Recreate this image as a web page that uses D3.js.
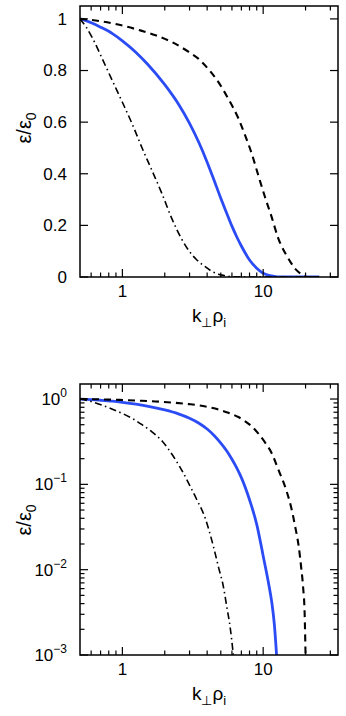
<!DOCTYPE html>
<html>
<head>
<meta charset="utf-8">
<script src="https://cdn.jsdelivr.net/npm/d3@7"></script>
<style>
  body { margin: 0; background: #fff; }
  text { font-family: "Liberation Sans", Arial, Helvetica, sans-serif; fill: #000; }
</style>
</head>
<body>
<svg id="chart" width="346" height="716"></svg>
<script>
// values (k_perp rho_i , eps/eps0)
const solidK = [0.5, 0.6, 0.7, 0.85, 1.0, 1.25, 1.5, 2.0, 2.5, 3.0, 3.5, 4.0, 4.5, 5.0, 5.5, 6.0, 6.5, 7.0, 8.0, 9.0, 10, 11, 11.5, 12, 12.5, 13, 14, 16, 25];
const solidE = [1.0, 0.985, 0.968, 0.943, 0.915, 0.87, 0.826, 0.745, 0.67, 0.595, 0.52, 0.445, 0.372, 0.305, 0.248, 0.197, 0.155, 0.12, 0.066, 0.034, 0.0145, 0.0065, 0.0042, 0.0023, 0.0009, 0.0003, 0.00003, 0.000001, 0.0000001];

const dashK = [0.5, 0.685, 0.95, 1.31, 1.72, 2.25, 2.96, 3.48, 4.09, 4.81, 5.66, 6.66, 7.43, 8.27, 9.22, 10.3, 11.45, 12.8, 14.6, 15.8, 16.9, 17.9, 18.6, 19.2, 19.7, 20.0, 20.3, 21, 23, 25];
const dashE = [1.0, 0.992, 0.977, 0.957, 0.937, 0.91, 0.872, 0.845, 0.805, 0.755, 0.69, 0.615, 0.55, 0.48, 0.395, 0.31, 0.235, 0.15, 0.085, 0.054, 0.0316, 0.0185, 0.0108, 0.0063, 0.0031, 0.001, 0.0003, 0.00003, 0.000001, 0.0000001];

const dotDashK = [0.5, 0.55, 0.614, 0.723, 0.85, 1.0, 1.18, 1.38, 1.63, 1.92, 2.25, 2.65, 3.0, 3.38, 3.88, 4.2, 4.44, 4.81, 5.22, 5.51, 5.82, 6.14, 6.5, 7, 8, 25];
const dotDashE = [1.0, 0.97, 0.925, 0.843, 0.76, 0.677, 0.59, 0.50, 0.41, 0.32, 0.225, 0.145, 0.098, 0.066, 0.04, 0.026, 0.0185, 0.0108, 0.0063, 0.0037, 0.00215, 0.001, 0.0004, 0.0001, 0.00001, 0.0000001];

const xTickLabels = ["1", "10"];
const linTicks = [0, 0.2, 0.4, 0.6, 0.8, 1];
const linTickLabels = ["0", "0.2", "0.4", "0.6", "0.8", "1"];
const logTickExps = ["\u22123", "\u22122", "\u22121", "0"];

const svg = d3.select("#chart");
const left = 80, right = 338;

const x = d3.scaleLog().domain([0.5, 34]).range([left, right]);

const series = [
    { k: solidK, e: solidE, color: "#2b4cf4", width: 2.8, dash: null },
    { k: dashK, e: dashE, color: "#000", width: 2.1, dash: "7,5" },
    { k: dotDashK, e: dotDashE, color: "#000", width: 1.6, dash: "7,3.5,1.5,3.5" }
];

const panels = [
    { top: 6, bottom: 277, log: false, labelY: 128 },
    { top: 384, bottom: 655, log: true, labelY: 520 }
];

panels.forEach((p, i) => {
    const y = p.log
        ? d3.scaleLog().domain([1e-3, 1.5]).range([p.bottom, p.top])
        : d3.scaleLinear().domain([0, 1.05]).range([p.bottom, p.top]);

    const g = svg.append("g");

    // clip for curves
    const clipId = "clip" + i;
    svg.append("clipPath").attr("id", clipId)
        .append("rect").attr("x", left).attr("y", p.top)
        .attr("width", right - left).attr("height", p.bottom - p.top);

    const line = d3.line()
        .x(d => x(d[0]))
        .y(d => y(d[1]))
        .curve(d3.curveMonotoneX);

    series.forEach(s => {
        g.append("path")
            .attr("clip-path", `url(#${clipId})`)
            .attr("d", line(d3.zip(s.k, s.e)))
            .attr("fill", "none")
            .attr("stroke", s.color)
            .attr("stroke-width", s.width)
            .attr("stroke-dasharray", s.dash);
    });

    // x ticks (inward, bottom + top)
    const xt = x.ticks().filter(t => t > 0.5);
    xt.forEach(t => {
        const major = Math.abs(Math.log10(t) - Math.round(Math.log10(t))) < 1e-9;
        const len = major ? 8 : 4.5;
        const px = x(t);
        g.append("line").attr("x1", px).attr("x2", px).attr("y1", p.bottom).attr("y2", p.bottom - len)
            .attr("stroke", "#000").attr("stroke-width", 1.2);
        g.append("line").attr("x1", px).attr("x2", px).attr("y1", p.top).attr("y2", p.top + len)
            .attr("stroke", "#000").attr("stroke-width", 1.2);
    });
    [1, 10].forEach((t, j) => {
        g.append("text").attr("x", x(t)).attr("y", p.bottom + 20)
            .attr("text-anchor", "middle").attr("font-size", 17).text(xTickLabels[j]);
    });

    // y ticks
    if (!p.log) {
        linTicks.forEach((t, j) => {
            const py = y(t);
            g.append("line").attr("x1", left).attr("x2", left + 8).attr("y1", py).attr("y2", py)
                .attr("stroke", "#000").attr("stroke-width", 1.2);
            g.append("line").attr("x1", right).attr("x2", right - 8).attr("y1", py).attr("y2", py)
                .attr("stroke", "#000").attr("stroke-width", 1.2);
            g.append("text").attr("x", 67).attr("y", py).attr("dy", "0.35em")
                .attr("text-anchor", "end").attr("font-size", 17).text(linTickLabels[j]);
        });
    } else {
        y.ticks().forEach(t => {
            const major = Math.abs(Math.log10(t) - Math.round(Math.log10(t))) < 1e-9;
            const len = major ? 8 : 4.5;
            const py = y(t);
            g.append("line").attr("x1", left).attr("x2", left + len).attr("y1", py).attr("y2", py)
                .attr("stroke", "#000").attr("stroke-width", 1.2);
            g.append("line").attr("x1", right).attr("x2", right - len).attr("y1", py).attr("y2", py)
                .attr("stroke", "#000").attr("stroke-width", 1.2);
        });
        [1e-3, 1e-2, 1e-1, 1].forEach((t, j) => {
            const txt = g.append("text").attr("x", 67).attr("y", y(t) + 6)
                .attr("text-anchor", "end").attr("font-size", 17);
            txt.append("tspan").text("10");
            txt.append("tspan").attr("dy", -8).attr("font-size", 12).text(logTickExps[j]);
        });
    }

    // frame
    g.append("rect").attr("x", left).attr("y", p.top)
        .attr("width", right - left).attr("height", p.bottom - p.top)
        .attr("fill", "none").attr("stroke", "#000").attr("stroke-width", 1.5);

    // axis labels
    const xl = g.append("text").attr("x", (left + right) / 2).attr("y", p.bottom + 45)
        .attr("text-anchor", "middle").attr("font-size", 19);
    xl.append("tspan").text("k");
    xl.append("tspan").attr("dy", 5).attr("font-size", 13).text("\u22a5");
    xl.append("tspan").attr("dy", -5).text("\u03c1");
    xl.append("tspan").attr("dy", 5).attr("font-size", 13).text("i");

    const yl = g.append("text").attr("transform", `translate(31,${p.labelY}) rotate(-90)`)
        .attr("text-anchor", "middle").attr("font-size", 20);
    yl.append("tspan").text("\u03b5/\u03b5");
    yl.append("tspan").attr("dy", 5).attr("font-size", 14).text("0");
});
</script>
</body>
</html>
